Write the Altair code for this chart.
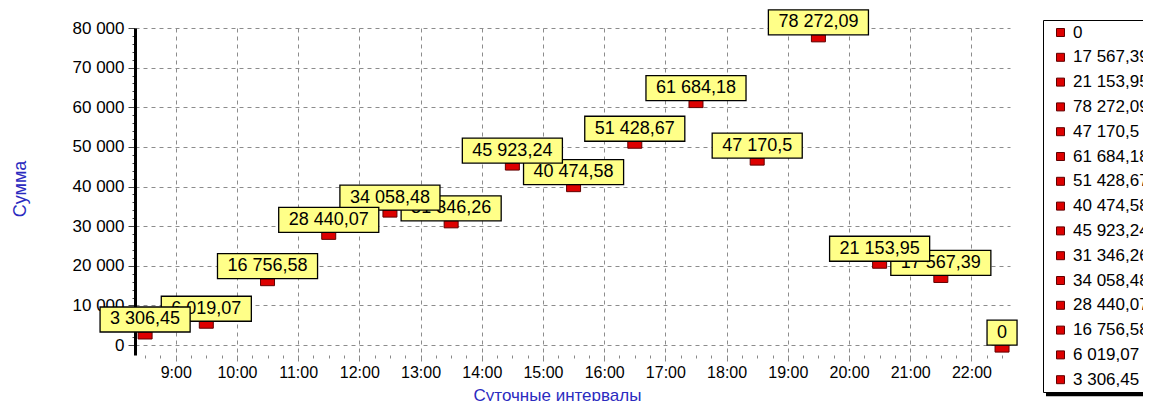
import altair as alt
import pandas as pd

# ---- data ----
hours = [8.5, 9.5, 10.5, 11.5, 12.5, 13.5, 14.5, 15.5, 16.5, 17.5, 18.5, 19.5, 20.5, 21.5, 22.5]
values = [3306.45, 6019.07, 16756.58, 28440.07, 34058.48, 31346.26, 45923.24,
          40474.58, 51428.67, 61684.18, 47170.5, 78272.09, 21153.95, 17567.39, 0]
hour_ticks = list(range(9, 23))
y_ticks = list(range(0, 80001, 10000))
y_title = "Сумма"
x_title = "Суточные интервалы"

# ---- layout / style ----
FONT = "Liberation Sans"
PLOT_W, PLOT_H = 875, 327
X_MIN, X_MAX = 8.335, 22.63
Y_MIN, Y_MAX = -2500, 80000
PX_PER_HOUR = PLOT_W / (X_MAX - X_MIN)
PX_PER_UNIT = PLOT_H / (Y_MAX - Y_MIN)
BOX_FS = 18
BOX_H = 25
BOX_PADX = 10
RED = "#dd0000"
DARKRED = "#600000"
YELLOW = "#ffff88"
BLUE = "#2b2bbf"
GRID = "#8c8c8c"
LEG_X, LEG_Y = 908, -8
LEG_PAD, LEG_ROW_H, LEG_ROW_PAD = 4, 18, 6.8
N_ITEMS = len(values)
LEG_BOTTOM = LEG_Y + 2 * LEG_PAD + N_ITEMS * LEG_ROW_H + (N_ITEMS - 1) * LEG_ROW_PAD


def fmt(v):
    s = f"{v:,.2f}".replace(",", " ").replace(".", ",")
    return s.rstrip("0").rstrip(",")


def text_w(s):
    return sum(0.556 if c.isdigit() else 0.278 for c in s) * BOX_FS


labels = [fmt(v) for v in values]
box_w = [text_w(s) + 2 * BOX_PADX for s in labels]

df = pd.DataFrame({
    "idx": range(len(hours)),
    "hour": hours,
    "value": values,
    "label": labels,
})
df["x1"] = [h - w / 2 / PX_PER_HOUR for h, w in zip(hours, box_w)]
df["x2"] = [h + w / 2 / PX_PER_HOUR for h, w in zip(hours, box_w)]
df["ytop"] = df["value"] + BOX_H / PX_PER_UNIT

legend_order = labels[::-1]

xscale = alt.Scale(domain=[X_MIN, X_MAX], nice=False, zero=False)
yscale = alt.Scale(domain=[Y_MIN, Y_MAX], nice=False, zero=False)

x_axis_main = alt.Axis(
    values=hour_ticks, labelExpr="datum.value + ':00'", grid=True,
    gridDash=[4, 4], gridColor=GRID, gridWidth=1, domain=False,
    tickSize=6, tickColor="#888888", labelFontSize=16, labelColor="black",
    labelFont=FONT, labelPadding=3, labelFlush=False,
    title=x_title, titleColor=BLUE, titleFontSize=17, titleFontWeight="normal",
    titleFont=FONT, titleX=422, titleY=45, titleAlign="center",
    titleBaseline="alphabetic", orient="bottom",
)
y_axis_main = alt.Axis(
    values=y_ticks,
    labelExpr="replace(format(datum.value, ',d'), regexp(',', 'g'), ' ')",
    grid=True, gridDash=[4, 4], gridColor=GRID, gridWidth=1,
    domain=True, domainColor="black", domainWidth=3,
    tickSize=7, tickColor="#444444", labelFontSize=17, labelColor="black",
    labelFont=FONT, labelPadding=4, labelFlush=False,
    title=y_title, titleColor=BLUE, titleFontSize=18, titleFontWeight="normal",
    titleFont=FONT, titleX=-115, titleY=PLOT_H / 2 - 3, titleAlign="center",
    titleBaseline="middle", titleAngle=270, orient="left",
)

quarter_vals = [h + q for h in range(8, 23) for q in (0.25, 0.5, 0.75)
                if X_MIN <= h + q <= X_MAX]
minor_y_vals = [v for v in range(0, 80001, 2000) if v % 10000 != 0]

x_axis_minor = alt.Axis(values=quarter_vals, labels=False, grid=False, domain=False,
                        tickSize=3, tickColor="#888888", title=None, orient="bottom")
y_axis_minor = alt.Axis(values=minor_y_vals, labels=False, grid=False, domain=False,
                        tickSize=3, tickColor="#444444", title=None, orient="left")

markers = alt.Chart(df).mark_point(
    shape="M-1,0H1V1H-1Z", size=196, filled=True, opacity=1,
    stroke=DARKRED, strokeWidth=1,
).encode(
    x=alt.X("hour:Q", scale=xscale, axis=x_axis_main),
    y=alt.Y("value:Q", scale=yscale, axis=y_axis_main),
    color=alt.Color(
        "label:N",
        scale=alt.Scale(domain=legend_order, range=[RED] * len(legend_order)),
        legend=alt.Legend(
            orient="none", legendX=LEG_X, legendY=LEG_Y, title=None,
            fillColor="white", strokeColor="black", padding=LEG_PAD,
            symbolType="square", symbolSize=64, symbolStrokeColor=DARKRED,
            symbolStrokeWidth=1, symbolOpacity=1, symbolOffset=5, labelOffset=4,
            labelFontSize=17, labelFont=FONT, labelColor="black",
            rowPadding=LEG_ROW_PAD, labelLimit=200, values=legend_order,
        ),
    ),
)

minor = alt.Chart(df).mark_point(opacity=0).encode(
    x=alt.X("hour:Q", scale=xscale, axis=x_axis_minor),
    y=alt.Y("value:Q", scale=yscale, axis=y_axis_minor),
)

# drop shadow under the legend box (decoration, pixel placed)
shadow = alt.Chart(df).transform_filter(alt.datum.idx == 0).mark_rect(
    color="black", opacity=1
).encode(
    x=alt.value(LEG_X + 3), x2=alt.value(PLOT_W + 200),
    y=alt.value(LEG_BOTTOM - 6), y2=alt.value(LEG_BOTTOM + 3),
)

item_layers = []
for i in reversed(range(len(hours))):
    base = alt.Chart(df).transform_filter(alt.datum.idx == i)
    rect = base.mark_rect(fill=YELLOW, stroke="black", strokeWidth=1.3).encode(
        x=alt.X("x1:Q", scale=xscale, axis=None),
        x2="x2:Q",
        y=alt.Y("value:Q", scale=yscale, axis=None),
        y2="ytop:Q",
    )
    txt = base.mark_text(fontSize=BOX_FS, font=FONT, dy=-BOX_H / 2, baseline="middle",
                         align="center", color="black").encode(
        x=alt.X("hour:Q", scale=xscale, axis=None),
        y=alt.Y("value:Q", scale=yscale, axis=None),
        text="label:N",
    )
    item_layers += [rect, txt]

chart = alt.layer(minor, markers, shadow, *item_layers).resolve_axis(
    x="independent", y="independent"
).properties(
    width=PLOT_W, height=PLOT_H,
    autosize=alt.AutoSizeParams(type="none"),
    padding={"left": 127, "top": 20, "right": 1135 - 127 - PLOT_W,
             "bottom": 393 - 20 - PLOT_H},
    background="white",
).configure_view(stroke=None)

chart.save("out.html", embed_options={"renderer": "svg", "actions": False})
